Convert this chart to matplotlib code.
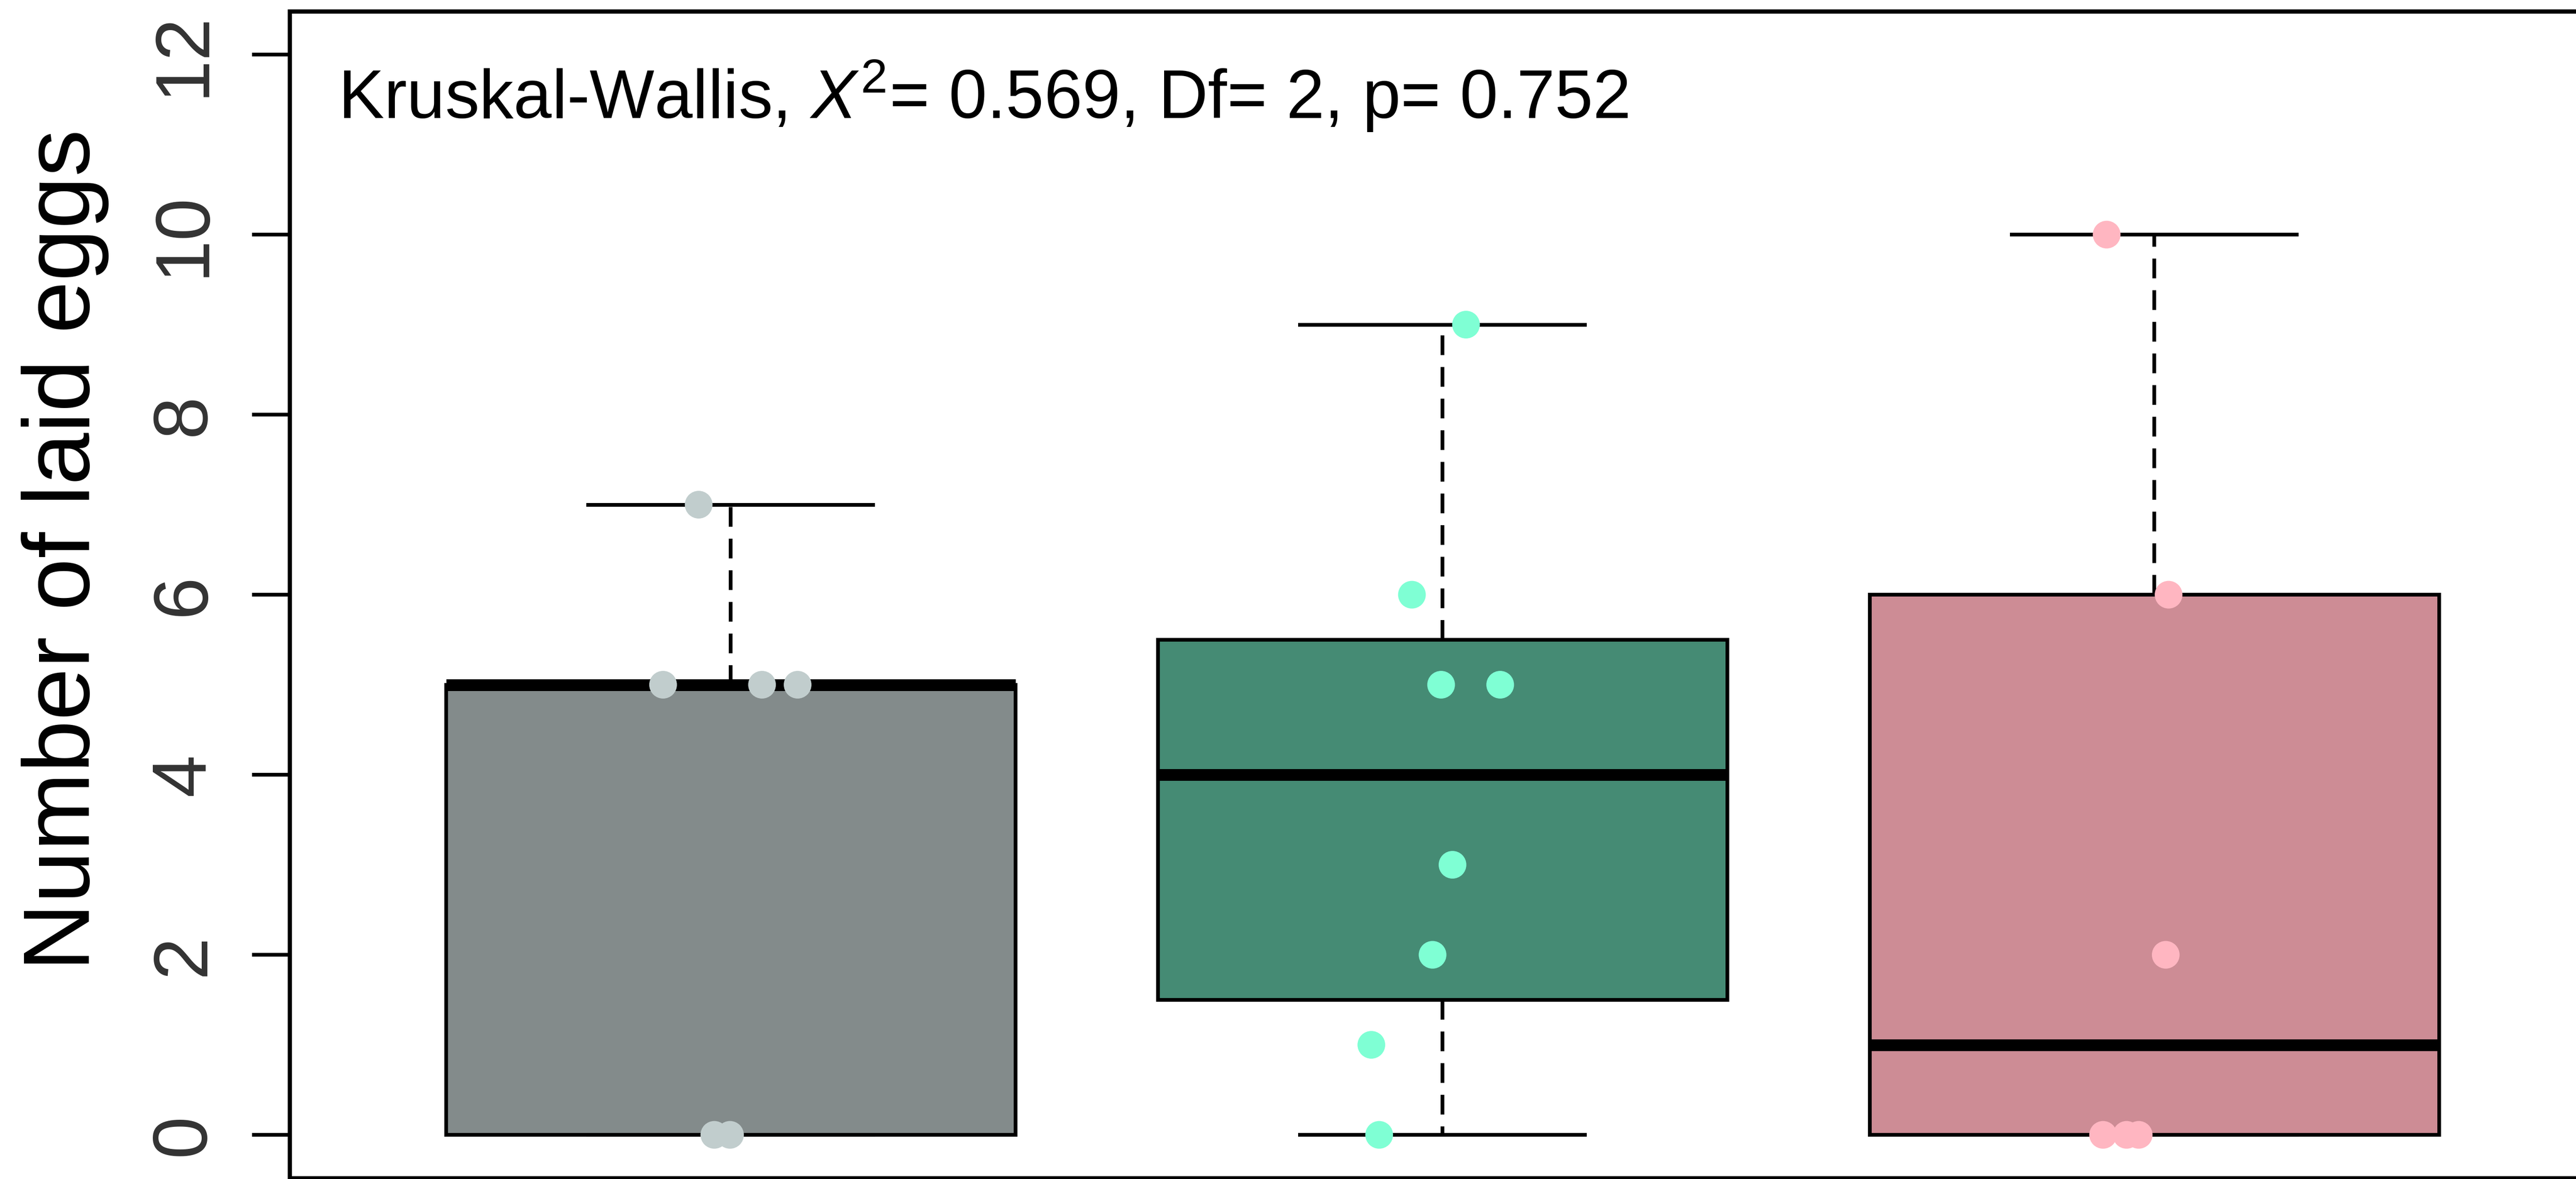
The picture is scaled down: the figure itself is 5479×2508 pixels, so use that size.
import matplotlib
matplotlib.use('Agg')
from matplotlib import pyplot as plt
from matplotlib import font_manager as fm
import numpy as np

# Valores de cada grupo e o deslocamento horizontal (jitter) de cada ponto
group1_values = [7, 5, 5, 5, 0, 0]
group1_jitter = [-0.045, -0.095, 0.044, 0.094, -0.023, -0.001]
group2_values = [9, 6, 5, 5, 3, 2, 1, 0]
group2_jitter = [0.033, -0.043, -0.002, 0.081, 0.014, -0.014, -0.100, -0.089]
group3_values = [10, 6, 2, 0, 0, 0]
group3_jitter = [-0.067, 0.020, 0.016, -0.072, -0.039, -0.022]

box_colors = ['#838B8B', '#458B74', '#CD8C95']
point_colors = ['#C1CDCD', '#7FFFD4', '#FFB6C1']
y_ticks = [0, 2, 4, 6, 8, 10, 12]
y_label = 'Number of laid eggs'
stat_text = r'Kruskal-Wallis, $X^{2}$= 0.569, Df= 2, p= 0.752'

groups = [group1_values, group2_values, group3_values]
jitters = [group1_jitter, group2_jitter, group3_jitter]

plt.rcParams['font.family'] = ['Liberation Sans', 'DejaVu Sans']
plt.rcParams['mathtext.fontset'] = 'custom'
plt.rcParams['mathtext.rm'] = 'Liberation Sans'
plt.rcParams['mathtext.it'] = 'Liberation Sans:italic'

names = {f.name for f in fm.fontManager.ttflist}
tickFont = 'Liberation Sans Narrow' if 'Liberation Sans Narrow' in names else 'Liberation Sans'


def fivenum(v):
    # igual ao fivenum do R (dobradicas de Tukey)
    v = sorted(v)
    n = len(v)
    n4 = np.floor((n + 3) / 2) / 2
    d = [1, n4, (n + 1) / 2, n + 1 - n4, n]
    return [0.5 * (v[int(np.floor(i)) - 1] + v[int(np.ceil(i)) - 1]) for i in d]


def boxStats(v):
    _, q1, med, q3, _ = fivenum(v)
    iqr = q3 - q1
    lo = min(x for x in v if x >= q1 - 1.5 * iqr)
    hi = max(x for x in v if x <= q3 + 1.5 * iqr)
    return dict(med=med, q1=q1, q3=q3, whislo=lo, whishi=hi, fliers=[])


W, H, DPI = 5479, 2508, 300
fig = plt.figure(figsize=(W / DPI, H / DPI), dpi=DPI)

xlim = (0.38, 3.62)
ylim = (-0.48, 12.48)
ax = fig.add_axes([615.5 / W, 2 / H, (xlim[1] - xlim[0]) * 1514 / W, (ylim[1] - ylim[0]) * 191.5 / H])

lw = 1.9
bp = ax.bxp([boxStats(g) for g in groups], positions=[1, 2, 3], widths=0.8, capwidths=0.4,
            patch_artist=True, showfliers=False, manage_ticks=False,
            boxprops=dict(linewidth=lw, edgecolor='black'),
            medianprops=dict(color='black', linewidth=6, solid_capstyle='butt'),
            whiskerprops=dict(color='black', linewidth=lw, linestyle=(0, (5.3, 3.2))),
            capprops=dict(color='black', linewidth=lw))
for patch, c in zip(bp['boxes'], box_colors):
    patch.set_facecolor(c)

for i, (vals, jit) in enumerate(zip(groups, jitters)):
    xs = [i + 1 + j for j in jit]
    ax.scatter(xs, vals, s=200, c=point_colors[i], edgecolors='none', zorder=5)

ax.set_xlim(*xlim)
ax.set_ylim(*ylim)
ax.set_xticks([])
ax.set_yticks(y_ticks)
ax.tick_params(axis='y', length=19.2, width=lw, pad=24.4, labelsize=39, labelcolor='#333333')
for lbl in ax.get_yticklabels():
    lbl.set_rotation(90)
    lbl.set_rotation_mode('anchor')
    lbl.set_ha('center')
    lbl.set_va('baseline')
    lbl.set_family(tickFont)
for s in ax.spines.values():
    s.set_linewidth(2.16)

fig.text(190 / W, 1 - 1170 / H, y_label, rotation=90, rotation_mode='anchor',
         ha='center', va='baseline', fontsize=48)
fig.text(719 / W, 1 - 252 / H, stat_text, fontsize=35, ha='left', va='baseline')

fig.savefig('out.png', dpi=DPI)
